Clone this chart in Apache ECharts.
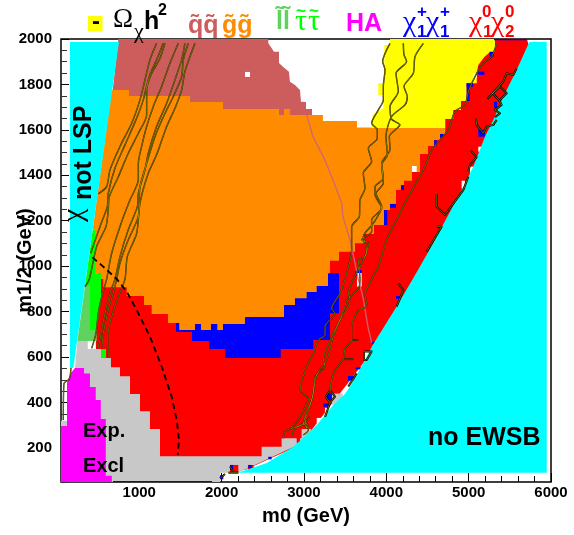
<!DOCTYPE html>
<html><head><meta charset="utf-8">
<style>html,body{margin:0;padding:0;background:#fff}#c{width:574px;height:535px}</style>
<script src="https://cdn.jsdelivr.net/npm/echarts@6/dist/echarts.min.js"></script>
</head><body><div id="c"></div>
<script>
// axis ticks
const xMajor = [1000,2000,3000,4000,5000,6000];
const xMinor = [200,400,600,800,1200,1400,1600,1800,2200,2400,2600,2800,3200,3400,3600,3800,4200,4400,4600,4800,5200,5400,5600,5800];
const yMajor = [200,400,600,800,1000,1200,1400,1600,1800,2000];
const yMinor = [50,100,150,250,300,350,450,500,550,650,700,750,850,900,950,1050,1100,1150,1250,1300,1350,1450,1500,1550,1650,1700,1750,1850,1900,1950];

// regions, as [m0, m1/2] outlines
const regionRed = [[463,961],[4591,1613],[5259,2000],[5708,2000],[5745,1952],[4409,895],[2952,213],[2284,103],[1130,147],[645,411],[475,622]];
const regionBlue = [[1446,750],[1446,710],[1640,710],[1640,671],[1851,671],[1851,635],[2045,635],[2045,596],[2718,596],[2718,635],[3113,635],[3113,675],[3316,675],[3316,793],[3426,793],[3426,969],[3292,969]];
const regionRosy = [[746,2000],[2567,2000],[2567,1982],[2636,1944],[2697,1944],[2697,1894],[2745,1878],[2818,1856],[2830,1812],[2891,1798],[2952,1776],[2964,1724],[3025,1723],[3025,1692],[3098,1692],[3098,1666],[645,1666]];
const regionOrange = [[665,1776],[875,1776],[875,1749],[1616,1749],[1616,1723],[2017,1723],[2017,1692],[2697,1692],[2697,1666],[2758,1666],[2758,1692],[2830,1692],[2830,1666],[3231,1666],[3231,1639],[3644,1639],[3644,1610],[4716,1610],[4716,1582],[4652,1582],[4652,1555],[4579,1555],[4579,1529],[4506,1529],[4506,1494],[4409,1494],[4409,1415],[4312,1415],[4312,1376],[4215,1376],[4215,1335],[4118,1335],[4118,1274],[4045,1274],[4045,1247],[3972,1247],[3972,1181],[3851,1181],[3851,1142],[3721,1142],[3721,1101],[3620,1101],[3620,1064],[3426,1064],[3426,1024],[3316,1024],[3316,969],[3292,969],[3292,913],[3155,913],[3155,886],[3033,886],[3033,859],[2891,859],[2891,829],[2758,829],[2758,776],[2284,776],[2284,746],[2017,746],[2017,719],[1948,719],[1948,746],[1871,746],[1871,719],[1750,719],[1750,746],[1677,746],[1677,719],[1486,719],[1486,750],[1349,750],[1349,790],[1151,790],[1151,829],[1058,829],[1058,869],[848,869],[848,907],[563,907],[563,944],[536,944],[536,969],[463,969],[463,1162],[435,1162]];
const regionYellow = [[4045,2000],[4045,1974],[3976,1974],[3976,1805],[3903,1805],[3903,1754],[3964,1754],[3964,1696],[3835,1666],[3814,1608],[4716,1608],[4716,1648],[4813,1648],[4813,1688],[4907,1688],[4907,1727],[4976,1727],[4976,1805],[5098,1805],[5098,1849],[5117,1886],[5190,1921],[5259,1943],[5320,1943],[5320,2000]];
const regionGreen = [[435,1162],[463,1162],[463,969],[536,969],[536,851],[483,719],[402,719],[402,913],[341,913]];
const regionPaleGreen = [[341,913],[402,913],[402,719],[483,719],[483,671],[248,671]];
const regionGreenLow = [[536,635],[596,635],[596,596],[536,596]];
const regionGrey = [[248,671],[375,671],[375,635],[536,635],[536,596],[657,596],[657,555],[766,555],[766,516],[888,516],[888,437],[1009,437],[1009,361],[1130,361],[1130,283],[1252,283],[1252,163],[2486,163],[2486,205],[2729,205],[2729,243],[2972,243],[2972,283],[3085,283],[3085,240],[2203,91],[1981,91],[1981,50],[50,50],[50,320],[125,320],[125,500],[220,552]];
const regionGreyEdge = [[3340,439],[3470,439],[3470,390],[3340,390]];
const regionMagenta = [[50,50],[50,297],[123,297],[123,487],[171,530],[220,552],[330,552],[330,528],[402,528],[402,468],[472,468],[472,411],[533,411],[533,327],[594,327],[594,77],[667,77],[667,50]];
const regionCyanLeft = [[159,1987],[754,1987],[199,552],[159,552]];
const regionCyanRight = [[5736,1987],[5583,1864],[5421,1746],[5299,1644],[5198,1570],[5056,1438],[4935,1350],[4733,1212],[4571,1102],[4385,983],[4126,822],[3964,728],[3835,653],[3721,574],[3559,470],[3498,437],[3356,389],[3155,301],[2952,232],[2871,205],[2548,134],[2199,91],[5948,91],[5948,1987]];

// scattered small cells, as [m0a, m12a, m0b, m12b]
const blueCells = [[4976,1805,5011,1727],[4976,1805,5056,1790],[5117,1856,5190,1842],[5255,1944,5304,1922],[4652,1582,4692,1567],[4582,1555,4612,1533],[3972,1247,4012,1181],[4045,1274,4118,1257],[4178,1357,4215,1335],[5117,1600,5198,1570],[5308,1724,5344,1696],[3628,983,3701,957],[4118,869,4167,856],[3823,668,3875,657],[3628,555,3701,546],[3535,517,3628,496],[3268,440,3337,411],[3235,396,3316,381],[2324,125,2366,110],[2567,161,2608,150],[2102,125,2138,103],[5308,2000,5708,1995],[681,50,1883,54],[1981,80,2021,62]];
const whiteCells = [[4312,1441,4369,1415],[2284,1855,2345,1833],[5117,1526,5170,1504],[5056,1849,5098,1827],[4915,1376,4955,1343],[5016,1438,5077,1409],[3644,970,3701,910],[3741,624,3802,587],[3255,376,3337,337],[3155,332,3219,308]];
const redCells = [[2102,125,2203,91],[2320,125,2390,94],[2912,244,2952,222]];

// contours
const contourL1 = [[1211,1981],[1130,1908],[1070,1820],[1009,1732],[908,1629],[766,1527],[645,1424],[604,1350],[503,1318]];
const contourL2 = [[1292,1981],[1219,1915],[1122,1835],[1049,1732],[960,1644],[827,1534],[705,1431],[624,1321],[612,1262],[523,1174],[410,1057]];
const contourL3 = [[1312,1981],[1252,1915],[1151,1849],[1090,1776],[1090,1666],[989,1585],[867,1497],[746,1394],[637,1306],[624,1248],[596,1174],[483,1086],[394,943],[341,910]];
const contourL4 = [[1475,1981],[1373,1893],[1272,1791],[1171,1703],[1090,1615],[1029,1527],[989,1453],[989,1380],[888,1292],[766,1174],[665,1057],[604,943],[544,866],[503,793],[475,705],[423,639]];
const contourL5 = [[1555,1981],[1515,1908],[1434,1820],[1333,1717],[1211,1615],[1110,1497],[1070,1424],[989,1321],[977,1262],[867,1160],[766,1042],[705,943],[645,881],[584,793],[544,719],[503,639]];
const contourL6 = [[1596,1981],[1535,1908],[1515,1835],[1414,1747],[1313,1673],[1191,1570],[1090,1453],[1009,1350],[989,1218],[867,1116],[766,1013],[726,943],[685,881],[624,807],[563,705],[544,639]];
const contourL7 = [[1677,1981],[1555,1857],[1515,1776],[1434,1695],[1333,1615],[1211,1490],[1110,1409],[1009,1277],[969,1145],[855,1042],[827,943],[746,866],[665,778],[617,690],[624,602]];
const contourL8 = [[171,552],[151,503],[86,484],[78,323]];
const contourR1 = [[4045,1981],[3956,1901],[3984,1864],[3964,1791],[3964,1732],[3903,1688],[3822,1629],[3891,1600],[3891,1563],[3782,1519],[3822,1461],[3721,1409],[3741,1343],[3681,1292],[3673,1218],[3579,1174],[3579,1072],[3498,943],[3438,880],[3337,814],[3377,792],[3256,734],[3256,697],[3175,675],[3114,616],[3033,558],[2952,455],[3054,418],[2952,338],[2851,286]];
const contourR2 = [[4207,1981],[4215,1930],[4247,1901],[4118,1849],[4146,1769],[4045,1703],[4065,1647],[4166,1622],[4037,1571],[4045,1512],[3944,1453],[3964,1387],[3863,1350],[3863,1314],[3944,1255],[3822,1204],[3822,1152],[3701,1116],[3782,1101],[3741,1042],[3660,1028],[3681,943],[3661,902],[3519,851],[3499,822],[3357,690],[3276,587],[3155,521],[3094,411],[3013,338],[3033,286]];
const contourR3 = [[4450,1981],[4349,1923],[4328,1849],[4215,1791],[4255,1747],[4227,1710],[4065,1659],[3996,1571],[4013,1490],[3944,1446],[3964,1365],[3875,1321],[3944,1262],[3843,1189],[3721,1130],[3762,1072],[3600,943],[3539,880],[3560,851],[3438,763],[3337,690],[3236,587],[3256,558],[3135,514],[3114,440],[3054,367],[2993,308],[3054,286]];
const contourR4 = [[5340,1981],[5280,1923],[5178,1893],[5097,1849],[4996,1769],[4956,1710],[4834,1681],[4753,1600],[4652,1556],[4551,1512],[4470,1439],[4349,1358],[4247,1292],[4126,1204],[4005,1116],[3903,998],[3822,943],[3742,873],[3770,822],[3661,807],[3580,734],[3580,675],[3499,638],[3479,594],[3357,528],[3317,455]];
const contourR5 = [[3317,455],[3377,426],[3317,399],[3264,426],[3317,455]];
const contourR6 = [[3317,399],[3256,337]];
const contourLoop1 = [[2750,242],[2770,272],[2851,286],[2952,297],[3033,308],[3054,279],[2993,257]];
const contourLoop2 = [[2851,257],[2892,286],[2993,308],[3074,338]];

// heavier black fragments along the EWSB edge
const frag1 = [[5583,1871],[5543,1842],[5462,1849],[5421,1813],[5227,1735]];
const frag2 = [[5381,1791],[5462,1761],[5373,1729],[5292,1761],[5381,1791]];
const frag3 = [[5373,1729],[5401,1710],[5320,1688],[5381,1673],[5320,1656]];
const frag4 = [[5089,1651],[5097,1622],[5178,1585],[5219,1615],[5300,1622],[5340,1644]];
const frag5 = [[5025,1509],[5097,1480],[5017,1446],[4996,1417]];
const frag6 = [[4612,1318],[4612,1262],[4713,1226],[4936,1336],[4996,1394]];
const frag7 = [[4612,1174],[4672,1174],[4490,1064]];
const frag8 = [[4146,924],[4207,895],[4126,822]];
const frag9 = [[3729,624],[3822,624],[3762,587],[3729,587],[3729,624]];
const frag10 = [[3539,470],[3640,528]];
const frag11 = [[3580,675],[3661,675]];
const frag12 = [[3479,591],[3600,591]];
const frag13 = [[2082,91],[2204,91]];
const frag14 = [[2102,118],[2143,96]];
const frag15 = [[1981,66],[2042,85]];

const dashedLimit = [[430,1039],[563,998],[726,944],[848,888],[969,807],[1130,690],[1273,558],[1394,425],[1455,323],[1483,235],[1467,169]];
const rosyTrail = [[3033,1666],[3110,1570],[3255,1467],[3353,1379],[3458,1278],[3474,1218],[3559,1115],[3620,1014],[3656,948],[3717,864],[3778,732],[3823,662]];

const COL = {red:'#ff0000',blue:'#0000ff',rosy:'#cd5c5c',orange:'#ff8c00',yellow:'#ffff00',green:'#00ff00',pale:'#5fd35f',grey:'#c8c8c8',magenta:'#ff00ff',cyan:'#00ffff'};

function poly(points,color,z){
  return {type:'custom',coordinateSystem:'cartesian2d',silent:true,animation:false,z:z,clip:true,
    data:points,encode:{x:0,y:1},
    renderItem:function(p,api){
      if(p.dataIndex!==0) return null;
      return {type:'polygon',shape:{points:points.map(function(d){return api.coord(d);})},style:{fill:color},silent:true};
    }};
}
function cells(list,color,z){
  return {type:'custom',coordinateSystem:'cartesian2d',silent:true,animation:false,z:z,
    data:list,encode:{x:[0,2],y:[1,3]},
    renderItem:function(p,api){
      var a=api.coord([api.value(0),api.value(1)]),b=api.coord([api.value(2),api.value(3)]);
      return {type:'rect',shape:{x:a[0],y:a[1],width:b[0]-a[0],height:b[1]-a[1]},style:{fill:color}};
    }};
}
function ln(d,color,w,z,type,smooth){
  return {type:'line',data:d,showSymbol:false,symbol:'none',silent:true,animation:false,z:z,smooth:smooth||false,
    lineStyle:{color:color,width:w,type:type||'solid',cap:'butt',join:'round'}};
}
const series=[
  poly(regionRed,COL.red,2),poly(regionBlue,COL.blue,3),poly(regionRosy,COL.rosy,4),poly(regionOrange,COL.orange,5),
  poly(regionYellow,COL.yellow,6),poly(regionGreen,COL.green,7),poly(regionPaleGreen,COL.pale,7),
  poly(regionGrey,COL.grey,8),poly(regionGreyEdge,COL.grey,8),poly(regionGreenLow,COL.green,9),poly(regionMagenta,COL.magenta,9),
  cells(redCells,COL.red,10),cells(blueCells,COL.blue,10),cells(whiteCells,'#ffffff',10),
  poly(regionCyanLeft,COL.cyan,11),poly(regionCyanRight,COL.cyan,11),
  ln(rosyTrail,'rgba(205,100,120,0.9)',1.4,12)
];
[contourL1,contourL2,contourL3,contourL4,contourL5,contourL6,contourL7,contourL8,contourR1,contourR2,contourR3,contourR4,contourLoop1,contourLoop2].forEach(function(c){
  series.push(ln(c,'#141400',1.4,13,null,0.25)); series.push(ln(c,'#d8c000',0.5,14,null,0.25));
});
[contourR5,contourR6,frag1,frag2,frag3,frag4,frag5,frag6,frag7,frag8,frag9,frag10,frag11,frag12,frag13,frag14,frag15].forEach(function(c){
  series.push(ln(c,'#000',2,13)); series.push(ln(c,'#d8c000',0.5,14));
});
series.push(ln(dashedLimit,'#000',1.8,15,[6,4]));

const SANS='bold 25px "Liberation Sans"';
const SERIF='"Liberation Serif"';
const SUB='bold 17px "Liberation Sans"';
function t(text,x,y,font,fill,rot){
  var o={type:'text',z:100,style:{text:text,x:x,y:y,font:font,fill:fill||'#000',align:'left',verticalAlign:'middle'}};
  if(rot){o.rotation=rot;o.x=x;o.y=y;o.style.x=0;o.style.y=0;}
  return o;
}
const graphics=[
  {type:'rect',z:99,shape:{x:88,y:16,width:14.5,height:15.5},style:{fill:COL.yellow}},
  t('-',92,22,'bold 24px "Liberation Sans"','#000'),
  t('\u03a9',113,20,'27px '+SERIF,'#000'),
  t('\u03c7',134,32,'22px '+SERIF,'#000'),
  t('h',144,22,SANS,'#000'),
  t('2',158,11,'bold 16px "Liberation Sans"','#000'),
  t('q\u0303q\u0303',188,26,SANS,COL.rosy),
  t('g\u0303g\u0303',222,26,SANS,COL.orange),
  t('l\u0303l\u0303',276,22,SANS,COL.pale),
  t('\u03c4',295,22,'30px '+SERIF,COL.green),
  t('\u03c4',308,22,'30px '+SERIF,COL.green),
  t('~',296,11,'bold 17px "Liberation Sans"',COL.green),
  t('~',309,11,'bold 17px "Liberation Sans"',COL.green),
  t('HA',346,24,SANS,COL.magenta),
  t('\u03c7',403,23,'30px '+SERIF,COL.blue),
  t('+',417,12,SUB,COL.blue),
  t('1',417,32,SUB,COL.blue),
  t('\u03c7',426,23,'30px '+SERIF,COL.blue),
  t('+',440,12,SUB,COL.blue),
  t('1',440,32,SUB,COL.blue),
  t('\u03c7',469,23,'30px '+SERIF,COL.red),
  t('0',482,12,SUB,COL.red),
  t('1',483,32,SUB,COL.red),
  t('\u03c7',491,23,'30px '+SERIF,COL.red),
  t('0',505,12,SUB,COL.red),
  t('2',505,32,SUB,COL.red),
  t('no EWSB',428,438,'bold 25px "Liberation Sans"','#000'),
  t('Exp.',83,431,'bold 20px "Liberation Sans"','#000'),
  t('Excl',83,466,'bold 20px "Liberation Sans"','#000'),
  t('\u03c7',74,222,'30px '+SERIF,'#000',Math.PI/2),
  t('not LSP',84,200,'bold 25px "Liberation Sans"','#000',Math.PI/2)
];

const plain=function(v){return String(v);};
const labelFont={fontFamily:'Liberation Sans',fontWeight:'bold',fontSize:15,color:'#000',formatter:plain};
const hideLine={show:false};
const option={
  animation:false,
  backgroundColor:'#fff',
  grid:{left:61,right:23,top:39,bottom:53,show:true,borderColor:'#000',borderWidth:1.5,backgroundColor:'transparent',containLabel:false,outerBoundsMode:'none'},
  xAxis:[
    {type:'value',min:50,max:6000,position:'bottom',name:'m0 (GeV)',nameLocation:'middle',nameGap:24,nameMoveOverlap:false,
     nameTextStyle:{fontFamily:'Liberation Sans',fontWeight:'bold',fontSize:20,color:'#000'},
     axisLine:hideLine,splitLine:{show:false},
     axisTick:{inside:true,length:9,customValues:xMajor,lineStyle:{color:'#000',width:1}},
     axisLabel:Object.assign({customValues:xMajor,margin:3,hideOverlap:false,showMinLabel:true,showMaxLabel:true},labelFont)},
    {type:'value',min:50,max:6000,position:'bottom',
     axisLine:hideLine,splitLine:{show:false},axisLabel:{show:false},
     axisTick:{inside:true,length:6,customValues:xMinor,lineStyle:{color:'#000',width:1}}}
  ],
  yAxis:[
    {type:'value',min:50,max:2000,position:'left',name:'m1/2 (GeV)',nameLocation:'middle',nameGap:26,nameMoveOverlap:false,
     nameTextStyle:{fontFamily:'Liberation Sans',fontWeight:'bold',fontSize:20,color:'#000'},
     axisLine:hideLine,splitLine:{show:false},
     axisTick:{inside:true,length:8,customValues:yMajor,lineStyle:{color:'#000',width:1}},
     axisLabel:Object.assign({customValues:yMajor,margin:9,hideOverlap:false,showMinLabel:true,showMaxLabel:true},labelFont)},
    {type:'value',min:50,max:2000,position:'left',
     axisLine:hideLine,splitLine:{show:false},axisLabel:{show:false},
     axisTick:{inside:true,length:6,customValues:yMinor,lineStyle:{color:'#333',width:1}}}
  ],
  series:series,
  graphic:{elements:graphics}
};
echarts.init(document.getElementById('c'),null,{renderer:'canvas'}).setOption(option);
</script></body></html>
